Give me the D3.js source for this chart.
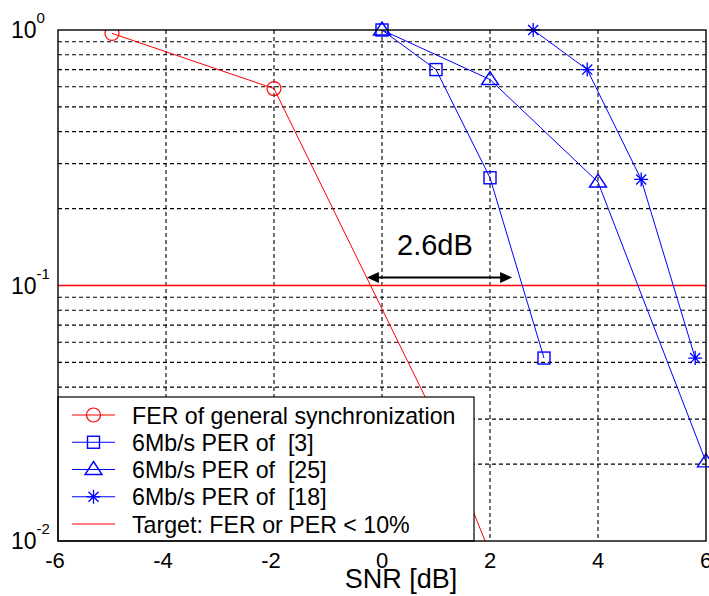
<!DOCTYPE html>
<html>
<head>
<meta charset="utf-8">
<script src="https://cdn.jsdelivr.net/npm/d3@7"></script>
<style>
  html, body { margin: 0; padding: 0; background: #fff; }
  svg { display: block; font-family: "Liberation Sans", Arial, sans-serif; }
</style>
</head>
<body>
<svg id="chart" width="709" height="596"></svg>
<script>
// ---------- data ----------
const snrFER = [-5, -2, 1, 4];
const ferGeneral = [0.97, 0.59, 0.030, 0.0008];

const snrPER3 = [0, 1, 2, 3];
const per3 = [1.0, 0.70, 0.264, 0.052];

const snrPER25 = [0, 2, 4, 6];
const per25 = [1.0, 0.64, 0.254, 0.0204];

const snrPER18 = [2.8, 3.8, 4.8, 5.8];
const per18 = [1.0, 0.70, 0.26, 0.052];

const targetLevel = 0.1;

const xTicks = [-6, -4, -2, 0, 2, 4, 6];
const yDecades = [1, 0.1, 0.01];
const yDecadeExp = ["0", "-1", "-2"];

const legendLabels = [
  "FER of general synchronization",
  "6Mb/s PER of \u00A0[3]",
  "6Mb/s PER of \u00A0[25]",
  "6Mb/s PER of \u00A0[18]",
  "Target: FER or PER < 10%"
];

const arrowSNR = [-0.28, 2.41];
const arrowLevel = 0.1075;
const annotationText = "2.6dB";
const annotationSNR = 0.98;
const annotationLevel = 0.132;

// ---------- layout ----------
const svg = d3.select("#chart");
const L = 58, R = 706, T = 30, B = 541;
const x = d3.scaleLinear().domain([-6, 6]).range([L, R]);
const y = d3.scaleLog().domain([0.01, 1]).range([B, T]);
const RED = "#ff0000", BLUE = "#0000ff";

svg.append("defs").append("clipPath").attr("id", "plotclip")
  .append("rect").attr("x", L).attr("y", T).attr("width", R - L).attr("height", B - T);

// grid (minor log lines 2..9 per decade, plus inner decade)
const gridVals = [];
[0.01, 0.1].forEach(d => { for (let k = 2; k <= 9; k++) gridVals.push(d * k); });
const grid = svg.append("g");
grid.selectAll("line.h").data(gridVals).enter().append("line")
  .attr("x1", L).attr("x2", R).attr("y1", d => y(d)).attr("y2", d => y(d))
  .attr("stroke", "#000").attr("stroke-width", 1.1).attr("stroke-dasharray", "4,3");
grid.selectAll("line.v").data(xTicks.filter(v => v > -6 && v < 6)).enter().append("line")
  .attr("x1", d => x(d)).attr("x2", d => x(d)).attr("y1", T).attr("y2", B)
  .attr("stroke", "#000").attr("stroke-width", 1.1).attr("stroke-dasharray", "4,3");

// target line
svg.append("line").attr("x1", L).attr("x2", R)
  .attr("y1", y(targetLevel)).attr("y2", y(targetLevel))
  .style("stroke", RED).style("stroke-width", "1.5px");

// series
const line = d3.line().x(d => x(d[0])).y(d => y(d[1]));
function series(snr, vals, color, marker) {
  const pts = snr.map((s, i) => [s, vals[i]]);
  svg.append("path").attr("d", line(pts)).attr("fill", "none")
    .attr("stroke", color).attr("stroke-width", 1).attr("clip-path", "url(#plotclip)");
  const g = svg.append("g").attr("clip-path", marker === "o" ? "url(#plotclip)" : null);
  pts.forEach(p => drawMarker(g, x(p[0]), y(p[1]), marker, color));
}
function drawMarker(g, cx, cy, marker, color) {
  if (marker === "o") {
    g.append("circle").attr("cx", cx).attr("cy", cy).attr("r", 7)
      .attr("fill", "none").attr("stroke", color).attr("stroke-width", 1.2);
  } else if (marker === "s") {
    g.append("rect").attr("x", cx - 6).attr("y", cy - 6).attr("width", 12).attr("height", 12)
      .attr("fill", "none").attr("stroke", color).attr("stroke-width", 1.4);
  } else if (marker === "^") {
    g.append("path").attr("d", `M${cx},${cy - 8}L${cx + 8.5},${cy + 5}L${cx - 8.5},${cy + 5}Z`)
      .attr("fill", "none").attr("stroke", color).attr("stroke-width", 1.4);
  } else if (marker === "*") {
    const r = 7, d = r * 0.72;
    g.append("path").attr("d",
      `M${cx - r},${cy}L${cx + r},${cy}M${cx},${cy - r}L${cx},${cy + r}` +
      `M${cx - d},${cy - d}L${cx + d},${cy + d}M${cx - d},${cy + d}L${cx + d},${cy - d}`)
      .attr("fill", "none").attr("stroke", color).attr("stroke-width", 1.3);
  }
}
series(snrFER, ferGeneral, RED, "o");
series(snrPER3, per3, BLUE, "s");
series(snrPER25, per25, BLUE, "^");
series(snrPER18, per18, BLUE, "*");

// legend
const lg = svg.append("g");
const lgX = L, lgY = 397, lgW = 416, lgH = B - 397;
lg.append("rect").attr("x", lgX).attr("y", lgY).attr("width", lgW).attr("height", lgH)
  .attr("fill", "#fff").attr("stroke", "#000").attr("stroke-width", 1.2);
const legendStyles = [
  { c: RED, m: "o" }, { c: BLUE, m: "s" }, { c: BLUE, m: "^" }, { c: BLUE, m: "*" }, { c: RED, m: null }
];
legendLabels.forEach((lab, i) => {
  const ry = 415 + i * 27.25;
  lg.append("line").attr("x1", 72).attr("x2", 115).attr("y1", ry).attr("y2", ry)
    .attr("stroke", legendStyles[i].c).attr("stroke-width", 1.2);
  if (legendStyles[i].m) drawMarker(lg, 93.5, ry, legendStyles[i].m, legendStyles[i].c);
  lg.append("text").attr("x", 132).attr("y", ry + 8.5).attr("font-size", 23.2)
    .attr("fill", "#000").text(lab);
});

// axes box
svg.append("rect").attr("x", L).attr("y", T).attr("width", R - L).attr("height", B - T)
  .attr("fill", "none").attr("stroke", "#000").attr("stroke-width", 1.4);

// x tick labels
svg.append("g").selectAll("text").data(xTicks).enter().append("text")
  .attr("x", d => x(d) - (d < 0 ? 3 : 0)).attr("y", 568).attr("text-anchor", "middle")
  .attr("font-size", 22).attr("fill", "#000").text(d => d);

// y tick labels
yDecades.forEach((v, i) => {
  const t = svg.append("text").attr("x", 11).attr("y", y(v) + 8).attr("font-size", 23).attr("fill", "#000");
  t.append("tspan").text("10");
  t.append("tspan").attr("dy", -15).attr("font-size", 15).text(yDecadeExp[i]);
});

// x axis title
svg.append("text").attr("x", 401).attr("y", 588).attr("text-anchor", "middle")
  .attr("font-size", 27).attr("fill", "#000").text("SNR [dB]");

// annotation arrow
const ay = y(arrowLevel), ax1 = x(arrowSNR[0]), ax2 = x(arrowSNR[1]);
svg.append("line").attr("x1", ax1 + 10).attr("x2", ax2 - 10).attr("y1", ay).attr("y2", ay)
  .attr("stroke", "#000").attr("stroke-width", 1.8);
svg.append("path").attr("d", `M${ax1},${ay}L${ax1 + 12},${ay - 5.5}L${ax1 + 12},${ay + 5.5}Z`).attr("fill", "#000");
svg.append("path").attr("d", `M${ax2},${ay}L${ax2 - 12},${ay - 5.5}L${ax2 - 12},${ay + 5.5}Z`).attr("fill", "#000");
svg.append("text").attr("x", x(annotationSNR)).attr("y", y(annotationLevel)).attr("text-anchor", "middle")
  .attr("font-size", 29).attr("fill", "#000").text(annotationText);
</script>
</body>
</html>
